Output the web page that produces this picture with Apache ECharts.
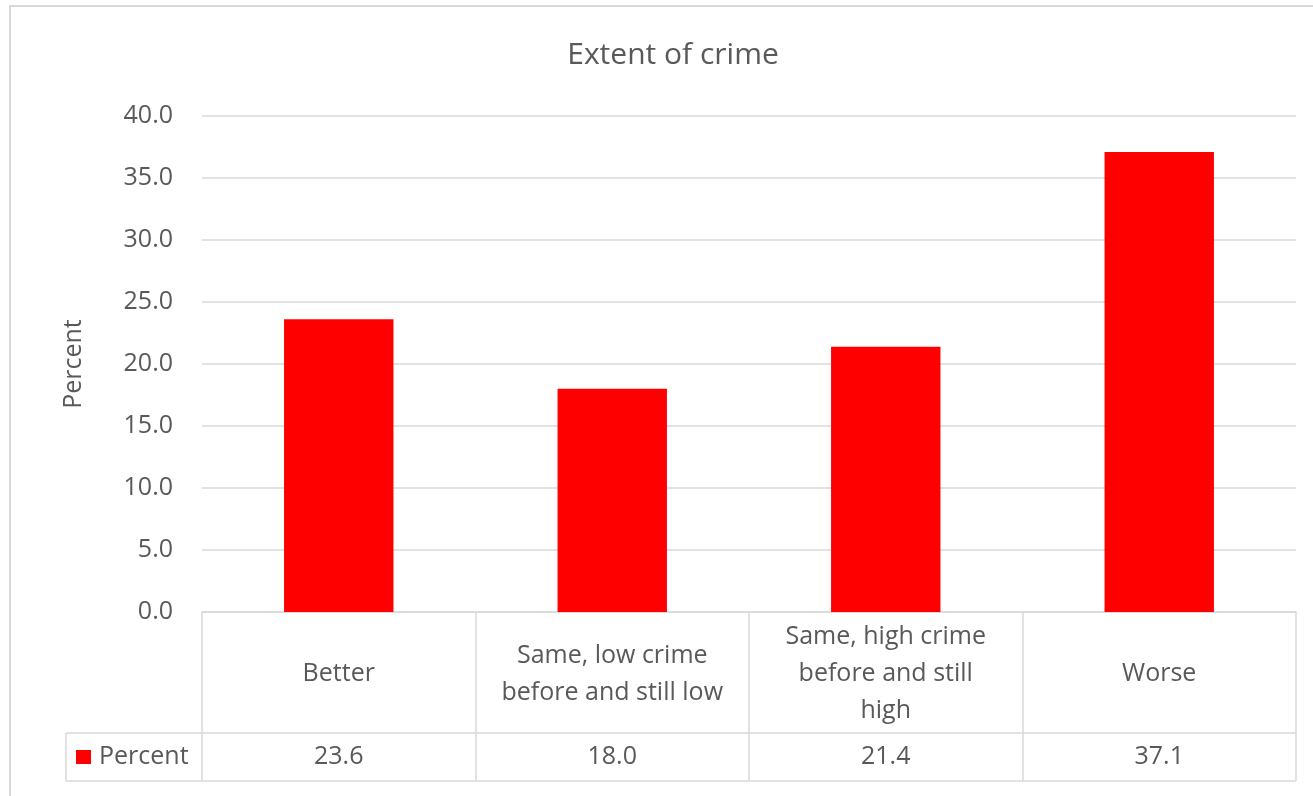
<!DOCTYPE html>
<html>
<head>
<meta charset="utf-8">
<script src="https://cdn.jsdelivr.net/npm/echarts@6/dist/echarts.min.js"></script>
<style>
html,body{margin:0;padding:0;background:#fff;}
#chart{width:1313px;height:796px;}
</style>
</head>
<body>
<div id="chart"></div>
<script>
const categories = ["Better", "Same, low crime before and still low", "Same, high crime before and still high", "Worse"];
const categoryLabels = ["Better", "Same, low crime\nbefore and still low", "Same, high crime\nbefore and still\nhigh", "Worse"];
const percentValues = [23.6, 18.0, 21.4, 37.1];
const seriesName = "Percent";
const chartTitle = "Extent of crime";
const yAxisName = "Percent";

const FONT = "Open Sans";
const TXT = "#595959";
const LINE = "#d9d9d9";

const chart = echarts.init(document.getElementById('chart'), null, {renderer: 'canvas'});

const option = {
  backgroundColor: '#fff',
  animation: false,
  textStyle: {fontFamily: FONT},
  title: {
    text: chartTitle,
    left: 668,
    textAlign: 'center',
    top: 35,
    textStyle: {fontFamily: FONT, fontSize: 30, fontWeight: 'normal', color: TXT}
  },
  legend: {
    data: [seriesName],
    left: 76,
    top: 744,
    padding: 0,
    icon: 'rect',
    itemWidth: 15,
    itemHeight: 14,
    textStyle: {fontFamily: FONT, fontSize: 25, color: TXT, lineHeight: 26, padding: [0, 0, 0, 3]}
  },
  grid: {left: 202, right: 17, top: 116, bottom: 184, containLabel: false},
  xAxis: [
    {
      type: 'category',
      data: categories,
      position: 'bottom',
      axisLine: {show: true, lineStyle: {color: LINE, width: 1.5}},
      axisTick: {show: true, interval: 0, length: 169, lineStyle: {color: LINE, width: 1.5}},
      axisLabel: {
        interval: 0,
        margin: 62,
        verticalAlign: 'middle',
        fontFamily: FONT,
        fontSize: 25,
        lineHeight: 37,
        color: TXT,
        formatter: function (v, i) { return categoryLabels[i]; }
      }
    },
    {
      type: 'category',
      data: categories,
      position: 'bottom',
      axisLine: {show: false},
      axisTick: {show: false},
      axisLabel: {
        interval: 0,
        margin: 145,
        verticalAlign: 'middle',
        fontFamily: FONT,
        fontSize: 25,
        color: TXT,
        formatter: function (v, i) { return percentValues[i].toFixed(1); }
      }
    }
  ],
  yAxis: {
    type: 'value',
    min: 0,
    max: 40,
    interval: 5,
    name: yAxisName,
    nameLocation: 'middle',
    nameRotate: 90,
    nameGap: 116,
    nameTextStyle: {fontFamily: FONT, fontSize: 25, color: TXT},
    axisLine: {show: false},
    axisTick: {show: false},
    axisLabel: {
      margin: 29,
      fontFamily: FONT,
      fontSize: 25,
      color: TXT,
      formatter: function (v) { return v.toFixed(1); }
    },
    splitLine: {show: true, lineStyle: {color: LINE, width: 1.5}}
  },
  series: [{
    name: seriesName,
    type: 'bar',
    xAxisIndex: 0,
    data: percentValues,
    barWidth: '40%',
    itemStyle: {color: '#ff0000'}
  }]
};

chart.setOption(option);

// Table lines derived from the axis scales
const y0 = chart.convertToPixel({yAxisIndex: 0}, 0);
const c0 = chart.convertToPixel({xAxisIndex: 0}, categories[0]);
const c1 = chart.convertToPixel({xAxisIndex: 0}, categories[1]);
const cN = chart.convertToPixel({xAxisIndex: 0}, categories[categories.length - 1]);
const band = c1 - c0;
const leftX = c0 - band / 2;
const rightX = cN + band / 2;
const tableLeft = leftX - 136;
const rowTop = y0 + 121;
const rowBottom = y0 + 169;
const ls = {stroke: LINE, lineWidth: 1.5};

chart.setOption({
  graphic: [
    {type: 'rect', shape: {x: 10, y: 6, width: 1400, height: 900}, style: {fill: 'none', stroke: LINE, lineWidth: 2}, silent: true},
    {type: 'line', shape: {x1: tableLeft, y1: rowTop, x2: rightX, y2: rowTop}, style: ls, silent: true},
    {type: 'line', shape: {x1: tableLeft, y1: rowBottom, x2: rightX, y2: rowBottom}, style: ls, silent: true},
    {type: 'line', shape: {x1: tableLeft, y1: rowTop, x2: tableLeft, y2: rowBottom}, style: ls, silent: true}
  ]
});
</script>
</body>
</html>
